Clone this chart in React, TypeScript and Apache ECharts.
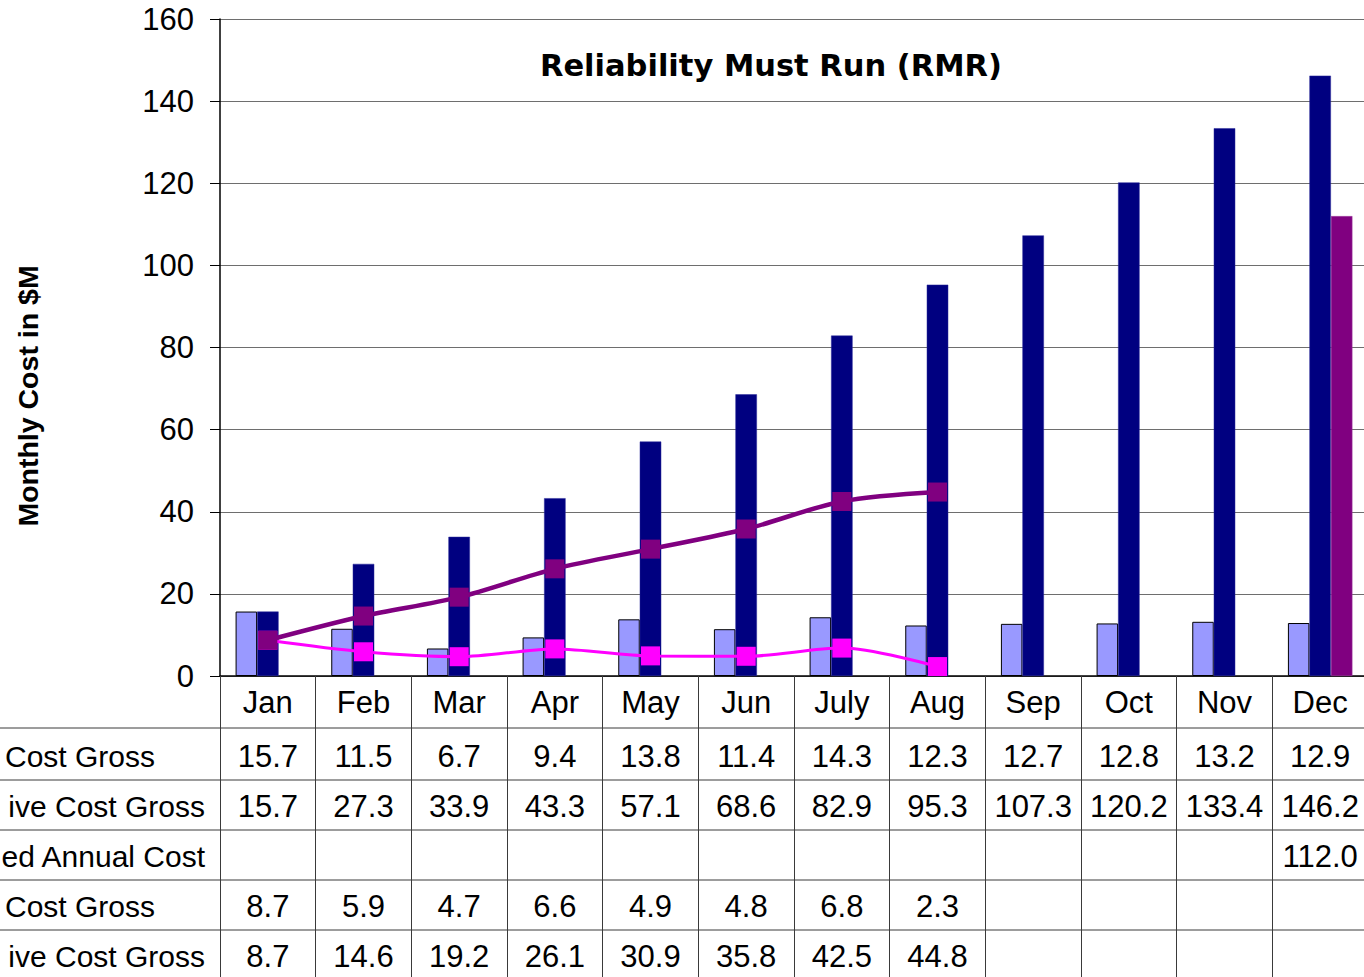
import React, { useEffect, useRef } from "react";
import * as echarts from "echarts";

const months = ["Jan", "Feb", "Mar", "Apr", "May", "Jun", "July", "Aug", "Sep", "Oct", "Nov", "Dec"];
const monthlyCostGross: (number | null)[] = [15.7, 11.5, 6.7, 9.4, 13.8, 11.4, 14.3, 12.3, 12.7, 12.8, 13.2, 12.9];
const cumulativeCostGross: (number | null)[] = [15.7, 27.3, 33.9, 43.3, 57.1, 68.6, 82.9, 95.3, 107.3, 120.2, 133.4, 146.2];
const projectedAnnualCost: (number | null)[] = [null, null, null, null, null, null, null, null, null, null, null, 112.0];
const monthlyCostGross2: (number | null)[] = [8.7, 5.9, 4.7, 6.6, 4.9, 4.8, 6.8, 2.3, null, null, null, null];
const cumulativeCostGross2: (number | null)[] = [8.7, 14.6, 19.2, 26.1, 30.9, 35.8, 42.5, 44.8, null, null, null, null];

const rowLabels = ["Cost Gross", "ive Cost Gross", "ed Annual Cost", "Cost Gross", "ive Cost Gross"];
const rowLabelRight = [155, 205, 205, 155, 205];
const yMin = 0;
const yMax = 160;
const yInterval = 20;

const FONT = "'Liberation Sans', Arial, sans-serif";
const CHART_W = 1368;

export default function App() {
  const ref = useRef<HTMLDivElement>(null);
  useEffect(() => {
    if (!ref.current) return;
    document.documentElement.style.overflow = "hidden";
    document.body.style.overflow = "hidden";
    const chart = echarts.init(ref.current, null, { renderer: "svg" });

    const axisTop = 676;
    const rowMargins = [80, 130, 180, 230, 280];
    const rowData = [monthlyCostGross, cumulativeCostGross, projectedAnnualCost, monthlyCostGross2, cumulativeCostGross2];
    const hLines = [728, 780, 830, 880, 930];

    const fmt = (v: number | null) => (v == null ? "" : v.toFixed(1));

    const rowAxes = rowData.map((arr, i) => ({
      type: "category",
      data: months,
      position: "bottom",
      gridIndex: 0,
      axisLine: { show: false },
      axisTick: { show: false },
      splitLine: { show: false },
      axisLabel: {
        interval: 0,
        margin: rowMargins[i],
        verticalAlign: "middle",
        fontSize: 31,
        fontFamily: FONT,
        color: "#000",
        formatter: (_v: string, idx: number) => fmt(arr[idx]),
      },
    }));

    const graphics: any[] = [
      {
        type: "text",
        x: 771,
        y: 65,
        style: {
          text: "Reliability Must Run (RMR)",
          font: "bold 30.5px 'DejaVu Sans', sans-serif",
          fill: "#000",
          textAlign: "center",
          textVerticalAlign: "middle",
        },
      },
      {
        type: "text",
        x: 28,
        y: 396,
        rotation: Math.PI / 2,
        style: {
          text: "Monthly Cost in $M",
          font: "bold 28.5px 'Liberation Sans', Arial, sans-serif",
          fill: "#000",
          textAlign: "center",
          textVerticalAlign: "middle",
        },
      },
    ];
    hLines.forEach((y) => {
      graphics.push({
        type: "line",
        shape: { x1: 0, y1: y, x2: CHART_W, y2: y },
        style: { stroke: "#3a3a3a", lineWidth: 1 },
      });
    });
    rowLabels.forEach((t, i) => {
      graphics.push({
        type: "text",
        x: rowLabelRight[i],
        y: axisTop + rowMargins[i],
        style: {
          text: t,
          font: "30px 'Liberation Sans', Arial, sans-serif",
          fill: "#000",
          textAlign: "right",
          textVerticalAlign: "middle",
        },
      });
    });

    const option: any = {
      animation: false,
      backgroundColor: "#fff",
      grid: { left: 220, right: 0, top: 19, bottom: 977 - axisTop, containLabel: false },
      xAxis: [
        {
          type: "category",
          data: months,
          position: "bottom",
          gridIndex: 0,
          boundaryGap: true,
          axisLine: { show: true, lineStyle: { color: "#000", width: 1.5 } },
          axisTick: { show: true, length: 977 - axisTop, inside: false, lineStyle: { color: "#3a3a3a", width: 1 } },
          splitLine: { show: false },
          axisLabel: {
            interval: 0,
            margin: 26,
            verticalAlign: "middle",
            fontSize: 31,
            fontFamily: FONT,
            color: "#000",
          },
        },
        ...rowAxes,
      ],
      yAxis: {
        type: "value",
        min: yMin,
        max: yMax,
        interval: yInterval,
        axisLine: { show: true, lineStyle: { color: "#000", width: 1.5 } },
        axisTick: { show: true, length: 10, inside: false, lineStyle: { color: "#000" } },
        splitLine: { show: true, lineStyle: { color: "#6e6e6e", width: 1 } },
        axisLabel: { fontSize: 31, fontFamily: FONT, color: "#000", margin: 26 },
      },
      series: [
        {
          name: "Monthly Cost Gross",
          type: "bar",
          data: monthlyCostGross,
          barWidth: 21.5,
          barGap: "0%",
          itemStyle: { color: "#9999FF", borderColor: "#000", borderWidth: 1 },
          z: 2,
        },
        {
          name: "Cumulative Cost Gross",
          type: "bar",
          data: cumulativeCostGross,
          barWidth: 21.5,
          barGap: "0%",
          itemStyle: { color: "#000080", borderColor: "#2a2a9a", borderWidth: 0.5 },
          z: 2,
        },
        {
          name: "Projected Annual Cost",
          type: "bar",
          data: projectedAnnualCost,
          barWidth: 21.5,
          barGap: "0%",
          itemStyle: { color: "#800080", borderColor: "#a040a0", borderWidth: 0.5 },
          z: 2,
        },
        {
          name: "Prior Monthly Cost Gross",
          type: "line",
          data: monthlyCostGross2,
          smooth: 0.3,
          symbol: "rect",
          symbolSize: 19,
          lineStyle: { color: "#FF00FF", width: 3 },
          itemStyle: { color: "#FF00FF" },
          z: 3,
        },
        {
          name: "Prior Cumulative Cost Gross",
          type: "line",
          data: cumulativeCostGross2,
          smooth: 0.3,
          symbol: "rect",
          symbolSize: 19,
          lineStyle: { color: "#800080", width: 4.5 },
          itemStyle: { color: "#800080" },
          z: 4,
        },
      ],
      graphic: graphics,
    };
    chart.setOption(option);
    return () => chart.dispose();
  }, []);

  return (
    <div
      ref={ref}
      style={{ position: "absolute", left: 0, top: 0, width: CHART_W, height: 977, background: "#fff" }}
    />
  );
}
